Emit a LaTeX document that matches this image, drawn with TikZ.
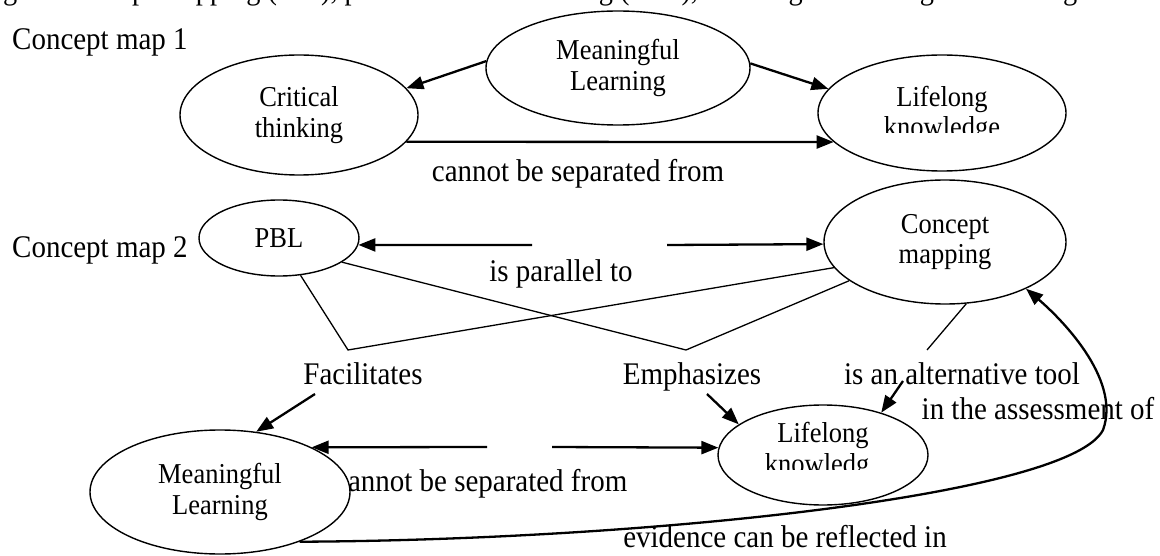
\documentclass[tikz,border=0pt]{standalone}
\usepackage{fontspec}
\setmainfont[FakeStretch=0.92]{Liberation Serif}
\usetikzlibrary{arrows.meta,shapes.geometric}
\newcommand\cmnodefont{\fontsize{28.8}{30.5}\selectfont}
\newcommand\cmlblfont{\fontsize{31.5}{34}\selectfont}
\newcommand\cmcapfont{\fontsize{30.8}{34}\selectfont}
\begin{document}
\begin{tikzpicture}[x=1pt,y=-1pt,
  concept/.style={draw, ellipse, line width=1.4pt, fill=white, inner sep=0pt, align=center, font=\cmnodefont},
  ntext/.style={inner sep=0pt, align=center, font=\cmnodefont},
  lbl/.style={inner sep=0pt, font=\cmlblfont, anchor=base},
  arr/.style={line width=2.3pt, -{Triangle[length=17pt,width=13pt]}},
  link/.style={line width=1.3pt},
]
\useasboundingbox (0,0) rectangle (1160,556);
% clipped caption line at the very top
\node[inner sep=0pt, font=\cmcapfont, anchor=base west] (cap) at (-60,0) {among the concept mapping (CM), problem-based learning (PBL), meaningful learning and lifelong learning};
% labels
\node[lbl, anchor=base west] (map1) at (12,50) {Concept map 1};
\node[lbl, anchor=base west] (map2) at (12,258) {Concept map 2};
\node[lbl] (l1) at (578,182) {cannot be separated from};
\node[lbl] (l2) at (561,282) {is parallel to};
\node[lbl] (l3) at (363,384) {Facilitates};
\node[lbl] (l4) at (692,384) {Emphasizes};
\node[lbl] (l5) at (962,384) {is an alternative tool};
\node[lbl] (l6) at (1038,419) {in the assessment of};
\node[lbl, anchor=base west] (l7) at (335,491) {cannot be separated from};
\node[lbl] (l8) at (785,547) {evidence can be reflected in};
% concepts
\node[concept, minimum width=264, minimum height=114] (ml1) at (618,68) {Meaningful\\Learning};
\node[concept, minimum width=238, minimum height=120] (ct) at (299,115) {Critical\\thinking};
\node[concept, minimum width=248, minimum height=116] (lk1) at (942,113) {};
\node[concept, minimum width=160, minimum height=76] (pbl) at (279,238) {PBL};
\node[concept, minimum width=242, minimum height=124] (cm) at (945,242) {Concept\\mapping};
\node[concept, minimum width=260, minimum height=124] (ml2) at (220,492) {Meaningful\\Learning};
\node[concept, minimum width=210, minimum height=100] (lk2) at (823,455) {};
\begin{scope}
\clip (810,60) rectangle (1075,133);
\node[ntext, anchor=base] (lk1a) at (942,107) {Lifelong};
\node[ntext, anchor=base] (lk1b) at (942,137) {knowledge};
\end{scope}
\begin{scope}
\clip (720,405) rectangle (869.5,469);
\node[ntext, anchor=base] (lk2a) at (823,442) {Lifelong};
\node[ntext, anchor=base] (lk2b) at (823,473) {knowledge};
\end{scope}
% connectors, map 1
\draw[arr] (ml1.177) -- (ct.14);
\draw[arr] (ml1.2) -- (lk1.168);
\draw[arr] (ct.-14) -- (lk1.195);
% connectors, map 2
\coordinate (pa) at (532,245);
\coordinate (pb) at (667,245);
\draw[arr] (pa) -- (pbl.-5);
\draw[arr] (pb) -- (cm.181);
\coordinate (facv) at (348,350);
\coordinate (empv) at (686,350);
\coordinate (altv) at (927,350);
\draw[link] (pbl.-60) -- (facv) -- (cm.193);
\draw[link] (pbl.-21) -- (empv) -- (cm.202);
\draw[link] (cm.-71) -- (altv);
\coordinate (fs) at (315,394);
\coordinate (es) at (707,394);
\coordinate (as) at (903,381);
\draw[arr] (fs) -- (ml2.59);
\draw[arr] (es) -- (lk2.160);
\draw[arr] (as) -- (lk2.36);
\coordinate (qa) at (487,447);
\coordinate (qb) at (552,447);
\draw[arr] (qa) -- (ml2.26);
\draw[arr] (qb) -- (lk2.176);
\draw[arr] (ml2.-32) .. controls (650,540) and (1070,495) .. (1103,430) .. controls (1122,378) and (1058,316) .. (cm.-30);
\end{tikzpicture}
\end{document}
